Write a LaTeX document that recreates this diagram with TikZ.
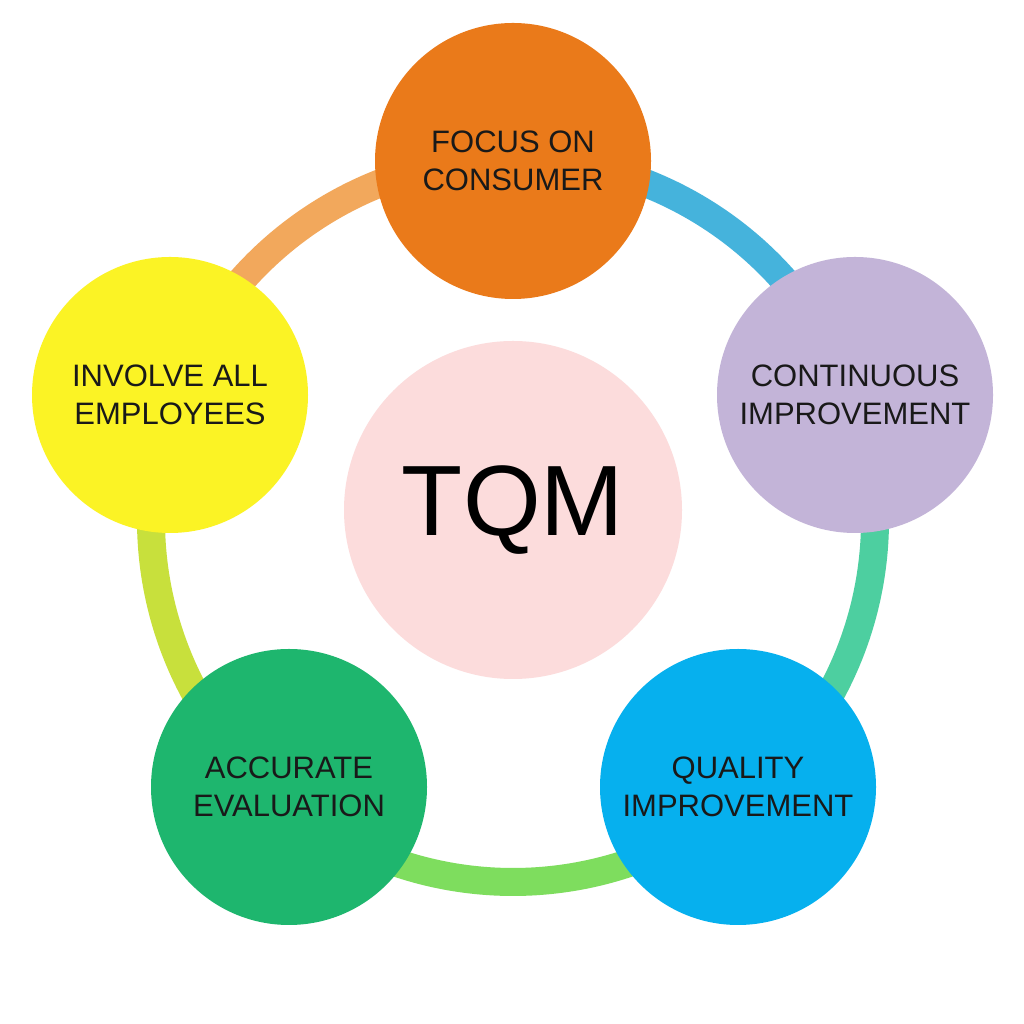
\documentclass[tikz,border=0pt]{standalone}
\usepackage{fontspec}
\setmainfont{Liberation Sans}
\usetikzlibrary{calc}
\definecolor{cOr}{HTML}{EA7A1A}
\definecolor{cPu}{HTML}{C3B4D8}
\definecolor{cBl}{HTML}{06B0EE}
\definecolor{cGr}{HTML}{1EB66E}
\definecolor{cYe}{HTML}{FBF325}
\definecolor{cCe}{HTML}{FCDCDC}
\definecolor{aBl}{HTML}{45B3DC}
\definecolor{aTe}{HTML}{4DCFA0}
\definecolor{aLg}{HTML}{7EDD5E}
\definecolor{aYg}{HTML}{C8E03C}
\definecolor{aOr}{HTML}{F2A85C}
\tikzset{
  ringarc/.style={line width=28pt},
  petal/.style={circle, minimum size=276pt, inner sep=0pt, align=center, font=\fontsize{31}{38}\selectfont, text=black!90},
}
\begin{document}
\begin{tikzpicture}[x=1pt,y=1pt]
\useasboundingbox (0,0) rectangle (1024,1024);
\fill[white] (0,0) rectangle (1024,1024);
\coordinate (o) at (513,504);
\draw[ringarc,aBl] ($(o)+(90:362)$) arc[start angle=90,end angle=20,radius=362];
\draw[ringarc,aTe] ($(o)+(20:362)$) arc[start angle=20,end angle=-50,radius=362];
\draw[ringarc,aLg] ($(o)+(-50:362)$) arc[start angle=-50,end angle=-130,radius=362];
\draw[ringarc,aYg] ($(o)+(-130:362)$) arc[start angle=-130,end angle=-200,radius=362];
\draw[ringarc,aOr] ($(o)+(160:362)$) arc[start angle=160,end angle=90,radius=362];
\node[circle, minimum size=338pt, fill=cCe, font=\fontsize{100}{110}\selectfont] (tqm) at (513,514) {TQM};
\node[petal, fill=cOr] (n1) at (513,863) {FOCUS ON\\CONSUMER};
\node[petal, fill=cPu] (n2) at (855,629) {CONTINUOUS\\IMPROVEMENT};
\node[petal, fill=cBl] (n3) at (738,237) {QUALITY\\IMPROVEMENT};
\node[petal, fill=cGr] (n4) at (289,237) {ACCURATE\\EVALUATION};
\node[petal, fill=cYe] (n5) at (170,629) {INVOLVE ALL\\EMPLOYEES};
\end{tikzpicture}
\end{document}
